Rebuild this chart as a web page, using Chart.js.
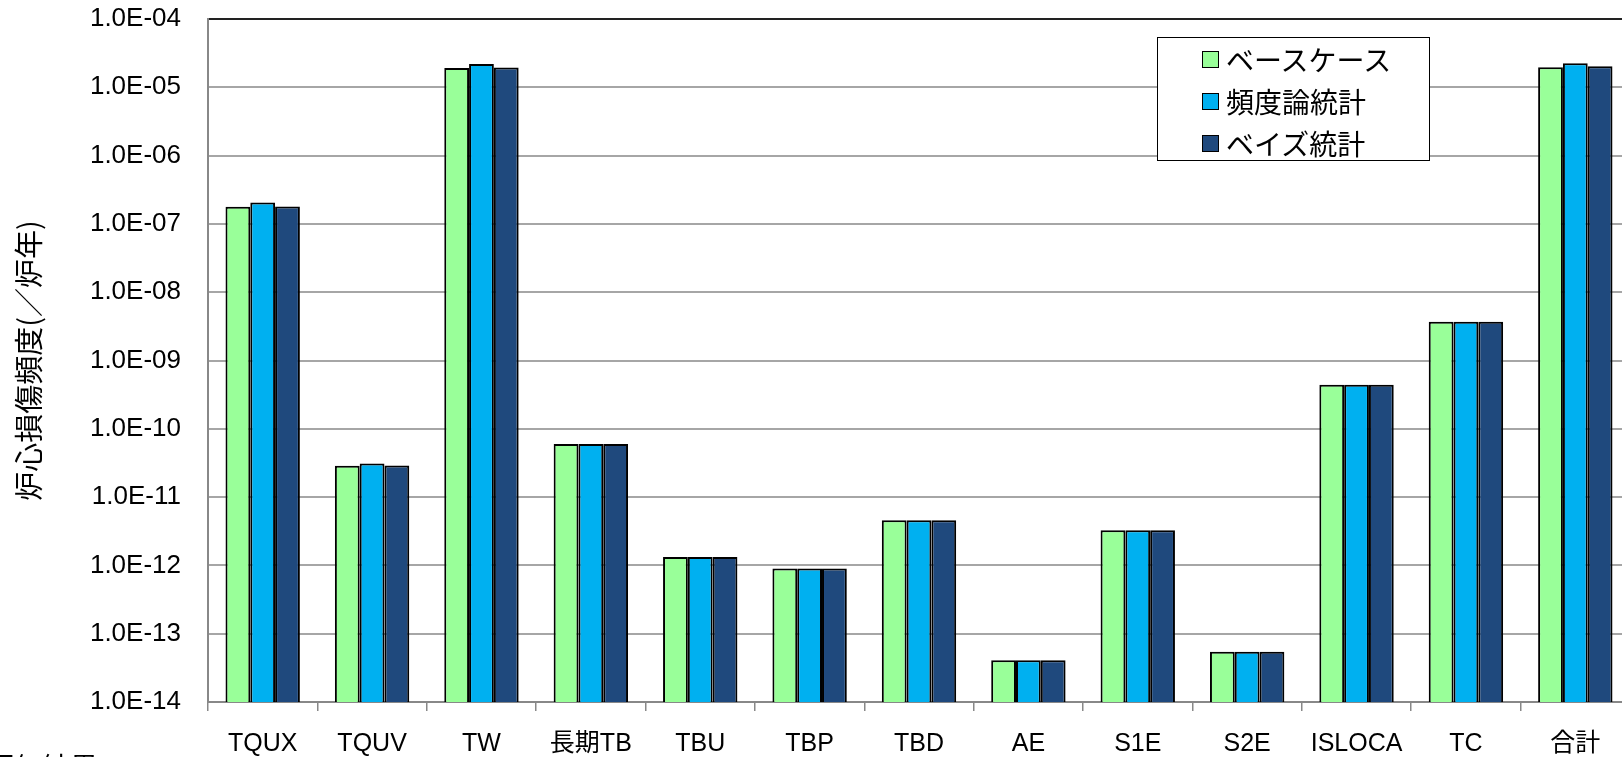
<!DOCTYPE html>
<html>
<head>
<meta charset="utf-8">
<script src="https://cdn.jsdelivr.net/npm/chart.js@4/dist/chart.umd.min.js"></script>
<style>
    html, body { margin: 0; padding: 0; background: #fff; overflow: hidden; width: 1622px; height: 757px; }
    #wrap { position: relative; width: 1622px; height: 757px; }
    #cdfChart { position: absolute; left: 0; top: 0; }
    #legend {
        position: absolute; left: 1157px; top: 37px; width: 273px; height: 124px;
        border: 1.5px solid #000; background: #fff; box-sizing: border-box;
        font-family: "Noto Sans CJK JP", sans-serif; font-size: 28px; color: #000;
    }
    #legend .item { position: absolute; left: 44px; height: 40px; display: flex; align-items: center; }
    #legend .box { width: 15px; height: 15px; border: 1.5px solid #000; margin-right: 7px; }
    #caption {
        position: absolute; left: -14px; top: 746px; font-family: "Noto Sans CJK JP", sans-serif;
        font-size: 28px; color: #000; white-space: nowrap;
    }
</style>
</head>
<body>
<div id="wrap">
    <canvas id="cdfChart" width="1632" height="757"></canvas>
    <div id="legend"></div>
    <div id="caption">評価結果</div>
</div>
<script>
// categories and values (per reactor-year)
const categories = ['TQUX', 'TQUV', 'TW', '長期TB', 'TBU', 'TBP', 'TBD', 'AE', 'S1E', 'S2E', 'ISLOCA', 'TC', '合計'];
const baseCase    = [1.79e-7, 2.87e-11, 1.92e-5, 6.0e-11, 1.33e-12, 9.0e-13, 4.57e-12, 4.1e-14, 3.26e-12, 5.45e-14, 4.42e-10, 3.69e-9, 1.96e-5];
const frequentist = [2.05e-7, 3.1e-11, 2.2e-5, 6.0e-11, 1.33e-12, 9.0e-13, 4.57e-12, 4.1e-14, 3.26e-12, 5.45e-14, 4.42e-10, 3.69e-9, 2.25e-5];
const bayesian    = [1.8e-7, 2.9e-11, 1.95e-5, 6.0e-11, 1.33e-12, 9.0e-13, 4.57e-12, 4.1e-14, 3.26e-12, 5.45e-14, 4.42e-10, 3.69e-9, 2.03e-5];
const seriesNames = ['ベースケース', '頻度論統計', 'ベイズ統計'];
const yTicks = [1e-14, 1e-13, 1e-12, 1e-11, 1e-10, 1e-9, 1e-8, 1e-7, 1e-6, 1e-5, 1e-4];
const yTitle = '炉心損傷頻度(／炉年)';

const colors = ['#99FF99', '#00B0F0', '#1F497D'];

// 1e-7 -> "1.0E-07"
function formatTick(v) {
    const parts = v.toExponential(1).split('e');
    const exp = parseInt(parts[1], 10);
    const sign = exp < 0 ? '-' : '+';
    return parts[0] + 'E' + sign + String(Math.abs(exp)).padStart(2, '0');
}

// Build the legend box from the chart's datasets
const htmlLegend = {
    id: 'htmlLegend',
    afterUpdate(chart) {
        const box = document.getElementById('legend');
        box.innerHTML = '';
        chart.data.datasets.forEach((ds, i) => {
            const item = document.createElement('div');
            item.className = 'item';
            item.style.top = (1 + i * 42) + 'px';
            const sw = document.createElement('span');
            sw.className = 'box';
            sw.style.background = ds.backgroundColor;
            const txt = document.createElement('span');
            txt.textContent = ds.label;
            item.appendChild(sw);
            item.appendChild(txt);
            box.appendChild(item);
        });
    }
};

const ctx = document.getElementById('cdfChart').getContext('2d');
const cdfChart = new Chart(ctx, {
    type: 'bar',
    data: {
        labels: categories,
        datasets: [baseCase, frequentist, bayesian].map((d, i) => ({
            label: seriesNames[i],
            data: d,
            backgroundColor: colors[i],
            borderColor: '#000',
            borderWidth: 2,
            categoryPercentage: 0.68,
            barPercentage: 1.0,
        }))
    },
    options: {
        responsive: false,
        animation: false,
        layout: { padding: { top: 19, right: 2, left: 0, bottom: 0 } },
        plugins: {
            legend: { display: false },
            tooltip: { enabled: false },
        },
        scales: {
            x: {
                offset: true,
                grid: { offset: true, drawOnChartArea: false, tickLength: 9, color: '#888', lineWidth: 1.5 },
                border: { color: '#888', width: 2 },
                ticks: {
                    color: '#000', padding: 18, maxRotation: 0, autoSkip: false,
                    font: { family: '"Liberation Sans", "Noto Sans CJK JP", sans-serif', size: 25 }
                },
                afterFit(scale) { scale.height = 55; scale.paddingLeft = 0; scale.paddingRight = 0; }
            },
            y: {
                type: 'logarithmic',
                min: 1e-14,
                max: 1e-4,
                afterBuildTicks(scale) { scale.ticks = yTicks.map(v => ({ value: v })); },
                grid: {
                    drawTicks: false,
                    color: (c) => c.tick && c.tick.value === 1e-4 ? '#222' : '#a6a6a6',
                    lineWidth: 2,
                },
                border: { color: '#888', width: 2 },
                ticks: {
                    color: '#000', padding: 27,
                    font: { family: '"Liberation Sans", sans-serif', size: 26 },
                    callback: (v) => formatTick(v)
                },
                title: {
                    display: true,
                    text: yTitle,
                    color: '#000',
                    padding: { top: 12, bottom: 0 },
                    font: { family: '"Noto Sans CJK JP", sans-serif', size: 29 }
                },
                afterFit(scale) { scale.width = 208; scale.paddingTop = 0; scale.paddingBottom = 0; }
            }
        }
    },
    plugins: [htmlLegend]
});
</script>
</body>
</html>
